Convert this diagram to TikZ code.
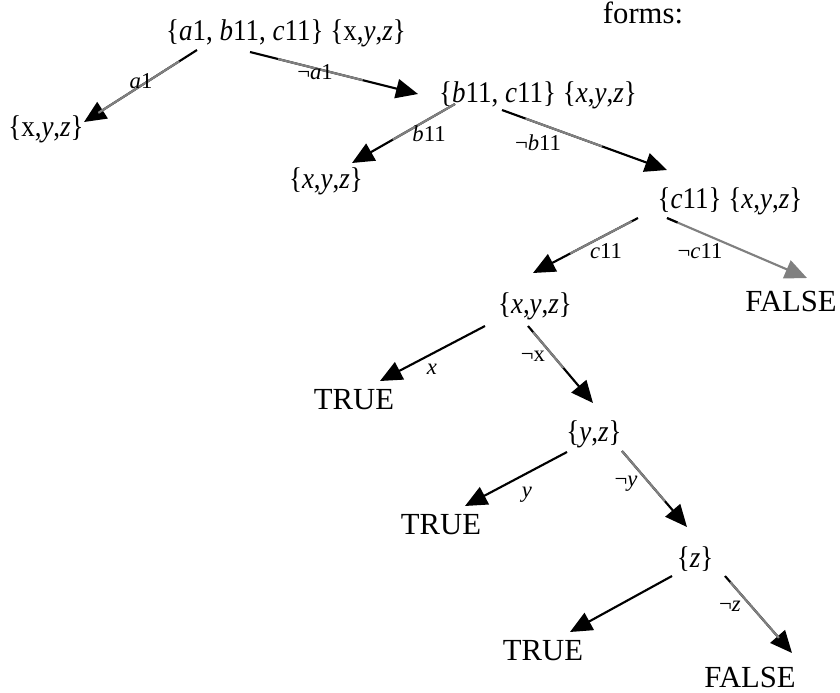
\documentclass[tikz,border=0pt]{standalone}
\usepackage{fontspec}
\setmainfont{Liberation Serif}
\newfontfamily\setserif{Liberation Serif}[FakeStretch=0.9]
\usetikzlibrary{arrows.meta}
\definecolor{midgrey}{gray}{0.5}

\begin{document}
\begin{tikzpicture}[x=0.75pt,y=-0.75pt,
  set/.style={font=\setserif\fontsize{22.5}{26}\selectfont, inner sep=0pt},
  leaf/.style={font=\fontsize{23}{27}\selectfont, inner sep=0pt},
  lbl/.style={font=\fontsize{17}{20}\selectfont, inner sep=0pt},
  edge/.style={line width=1.6pt, -{Triangle[length=16.5pt,width=14.5pt]}},
  greymid/.style 2 args={postaction={draw=midgrey, -, shorten <=#1, shorten >=#2}}]
\useasboundingbox (0,0) rectangle (840,693);
\node[set] (root) at (286,33) {\{\textit{a}1, \textit{b}11, \textit{c}11\} \{x,\textit{y},\textit{z}\}};
\node[leaf, anchor=base] (forms) at (643,23) {forms:};
\node[set] (n1) at (46,129) {\{x,\textit{y},\textit{z}\}};
\node[set] (bc) at (538,95) {\{\textit{b}11, \textit{c}11\} \{\textit{x},\textit{y},\textit{z}\}};
\node[set] (n2) at (326,181) {\{\textit{x},\textit{y},\textit{z}\}};
\node[set] (c) at (730,201) {\{\textit{c}11\} \{\textit{x},\textit{y},\textit{z}\}};
\node[set] (xyz) at (535,306) {\{\textit{x},\textit{y},\textit{z}\}};
\node[leaf] (false1) at (791,301) {FALSE};
\node[leaf] (true1) at (354,400) {TRUE};
\node[set] (yz) at (594,434) {\{\textit{y},\textit{z}\}};
\node[leaf] (true2) at (441,525) {TRUE};
\node[set] (z) at (695,559) {\{\textit{z}\}};
\node[leaf] (true3) at (543,651) {TRUE};
\node[leaf] (false2) at (750,677) {FALSE};

\draw[edge, greymid={15.75pt}{12.75pt}] ([shift={(-89,17)}]root.center) -- ([shift={(38,-7)}]n1.center);
\draw[edge, greymid={21.75pt}{42.75pt}] ([shift={(-36,19)}]root.center) -- ([shift={(-120,-1)}]bc.center);
\draw[edge, greymid={0pt}{35.25pt}] ([shift={(-83,9)}]bc.center) -- ([shift={(26,-18)}]n2.center);
\draw[edge, greymid={18.75pt}{51.75pt}] ([shift={(-36,15)}]bc.center) -- ([shift={(-63,-31)}]c.center);
\draw[edge, greymid={5.25pt}{31.5pt}] ([shift={(-92,17)}]c.center) -- ([shift={(-2,-33)}]xyz.center);
\draw[edge, draw=midgrey, postaction={draw=black, -, shorten >=105.75pt}] ([shift={(-63,17)}]c.center) -- ([shift={(16,-23)}]false1.center);
\draw[edge] ([shift={(-50,20)}]xyz.center) -- ([shift={(26,-19)}]true1.center);
\draw[edge, greymid={6pt}{34.5pt}] ([shift={(-7,20)}]xyz.center) -- ([shift={(-1,-31)}]yz.center);
\draw[edge] ([shift={(-27,18)}]yz.center) -- ([shift={(24,-19)}]true2.center);
\draw[edge, greymid={0pt}{25.5pt}] ([shift={(28,17)}]yz.center) -- ([shift={(-8,-32)}]z.center);
\draw[edge] ([shift={(-23,17)}]z.center) -- ([shift={(27,-19)}]true3.center);
\draw[edge, greymid={6pt}{15pt}] ([shift={(30,17)}]z.center) -- ([shift={(42,-24)}]false2.center);

\node[lbl] (la1) at (141,81) {\textit{a}1};
\node[lbl] (lna1) at (315,72) {¬\textit{a}1};
\node[lbl] (lb11) at (429,134) {\textit{b}11};
\node[lbl] (lnb11) at (538,143) {¬\textit{b}11};
\node[lbl] (lc11) at (606,251) {\textit{c}11};
\node[lbl] (lnc11) at (700,251) {¬\textit{c}11};
\node[lbl] (lx) at (432,369) {\textit{x}};
\node[lbl] (lnx) at (533,356) {¬x};
\node[lbl] (ly) at (527,495) {\textit{y}};
\node[lbl] (lny) at (626,484) {¬\textit{y}};
\node[lbl] (lnz) at (730,606) {¬\textit{z}};
\end{tikzpicture}
\end{document}
